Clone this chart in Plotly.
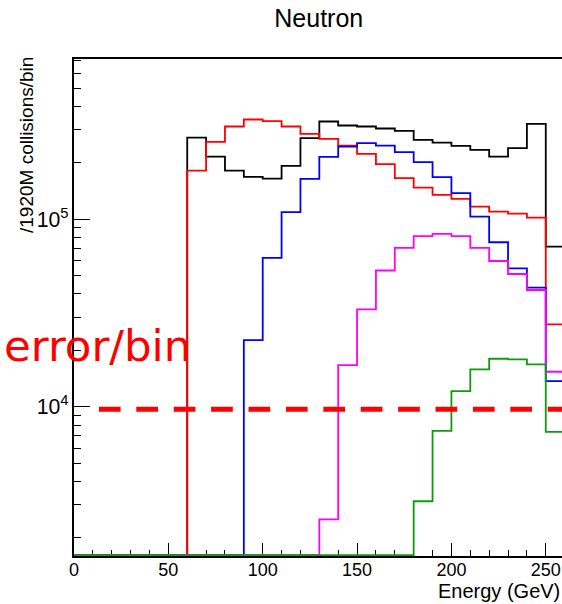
import plotly.graph_objects as go

# ---- data ----
bin_edges = list(range(0, 270, 10))  # 0..260, 10 GeV bins

black = [0, 0, 0, 0, 0, 0,
         2.725e5, 2.158e5, 1.817e5, 1.681e5, 1.647e5, 1.925e5, 2.705e5, 3.318e5,
         3.159e5, 3.12e5, 3.044e5, 2.959e5, 2.65e5, 2.563e5, 2.461e5, 2.343e5,
         2.158e5, 2.393e5, 3.225e5, 7.14e4]
red = [0, 0, 0, 0, 0, 0,
       1.817e5, 2.585e5, 3.12e5, 3.401e5, 3.334e5, 3.12e5, 2.852e5, 2.682e5,
       2.47e5, 2.231e5, 1.966e5, 1.655e5, 1.475e5, 1.348e5, 1.283e5, 1.167e5,
       1.098e5, 1.071e5, 1.02e5, 2.752e4]
blue = [0, 0, 0, 0, 0, 0, 0, 0, 0,
        2.27e4, 6.22e4, 1.09e5, 1.641e5, 2.15e5, 2.44e5, 2.544e5, 2.47e5,
        2.278e5, 2.015e5, 1.675e5, 1.376e5, 1.032e5, 7.54e4, 5.476e4, 4.315e4,
        1.371e4]
magenta = [0, 0, 0, 0, 0, 0, 0, 0, 0, 0, 0, 0, 0,
           2.516e3, 1.669e4, 3.309e4, 5.33e4, 7.03e4, 8.117e4, 8.35e4, 8.117e4,
           7.03e4, 5.99e4, 5.107e4, 4.195e4, 1.538e4]
green = [0] * 18 + [3.139e3, 7.447e3, 1.213e4, 1.583e4, 1.804e4, 1.79e4,
                    1.684e4, 7.356e3]

error_level = 9.7e3
error_x = [13.2, 260]

x_tick_vals = [0, 50, 100, 150, 200, 250]

# ---- styling ----
YMIN_LOG, YMAX_LOG = 3.205, 5.854
XMAX = 258.6
floor = 10 ** (YMIN_LOG + 0.004)

series = [
    (black, "black"),
    (red, "#ff0000"),
    (blue, "#0000ff"),
    (magenta, "#ff00ff"),
    (green, "#109a10"),
]

fig = go.Figure()
for vals, col in series:
    yv = [v if v > 0 else floor for v in vals]
    yv = yv + [yv[-1]]
    fig.add_trace(go.Scatter(x=bin_edges, y=yv, mode="lines",
                             line=dict(color=col, width=1.8, shape="hv"),
                             showlegend=False, hoverinfo="skip"))

fig.add_trace(go.Scatter(x=error_x, y=[error_level, error_level], mode="lines",
                         line=dict(color="#ff0000", width=5, dash="21.7px,15.7px"),
                         showlegend=False, hoverinfo="skip"))

font = "Liberation Sans, Arial, Helvetica, sans-serif"

fig.update_layout(
    width=562, height=604,
    margin=dict(l=74, r=0, t=59, b=48, autoexpand=False),
    plot_bgcolor="white", paper_bgcolor="white",
    font=dict(family=font, color="black"),
    title=dict(text="Neutron", x=318.8 / 562, xanchor="center",
               y=1 - 18 / 604, yanchor="middle",
               font=dict(size=25, family=font, color="black")),
)

fig.update_xaxes(
    range=[0, XMAX], tickvals=x_tick_vals, ticks="inside", ticklen=13,
    tickwidth=1.2, tickcolor="black", showgrid=False, zeroline=False,
    showline=True, linecolor="black", linewidth=2, mirror=True,
    tickfont=dict(size=18, family=font), automargin=False,
    ticklabelstandoff=-4,
    minor=dict(ticks="inside", ticklen=6, tickwidth=1.2, tickcolor="black",
               dtick=10, showgrid=False),
    layer="below traces",
)
fig.update_yaxes(
    type="log", range=[YMIN_LOG, YMAX_LOG], dtick=1, exponentformat="power",
    ticks="inside", ticklen=15.7, tickwidth=1.2, tickcolor="black",
    showgrid=False, zeroline=False, showline=True, linecolor="black",
    linewidth=2, mirror=False, tickfont=dict(size=17, family=font),
    automargin=False,
    minor=dict(ticks="inside", ticklen=7, tickwidth=1.2, tickcolor="black",
               dtick="D1", showgrid=False),
    layer="below traces",
)

fig.add_annotation(text="/1920M collisions/bin", textangle=-90,
                   xref="paper", yref="paper", x=-48 / 488, y=1.008,
                   xanchor="center", yanchor="top", showarrow=False,
                   font=dict(size=19, family=font, color="black"))
fig.add_annotation(text="Energy (GeV)", xref="paper", yref="paper",
                   x=1.0, y=-35 / 497, xanchor="right", yanchor="middle",
                   showarrow=False, font=dict(size=20, family=font, color="black"))
fig.add_annotation(text="error/bin", xref="paper", yref="paper",
                   x=-72 / 488, y=(556 - 346) / 497, xanchor="left",
                   yanchor="middle", showarrow=False,
                   font=dict(size=43.5, family="DejaVu Sans", color="#ff0000"))

fig.write_html("out.html",
               config={"displayModeBar": False},
               post_script="document.body.style.margin='0';"
                           "document.body.style.padding='0';")
